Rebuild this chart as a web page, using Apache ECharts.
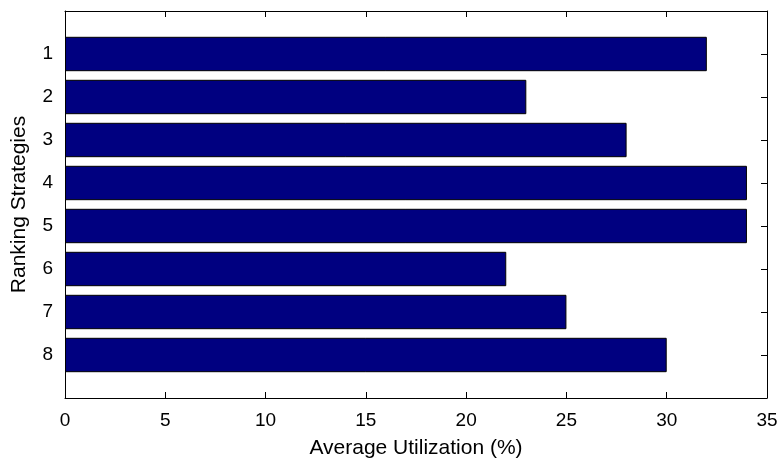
<!DOCTYPE html>
<html>
<head>
<meta charset="utf-8">
<script src="https://cdn.jsdelivr.net/npm/echarts@6/dist/echarts.min.js"></script>
<style>
  html, body { margin: 0; padding: 0; background: #fff; }
  #chart { width: 779px; height: 460px; }
</style>
</head>
<body>
<div id="chart"></div>
<script>
// strategies 1..8, padded with blank slots so the axis runs 0..9 like the original
const strategies = ['', '1', '2', '3', '4', '5', '6', '7', '8', ''];
const utilization = ['-', 32, 23, 28, 34, 34, 22, 25, 30, '-'];
const xTicks = [0, 5, 10, 15, 20, 25, 30, 35];

const font = 'Liberation Sans, Arial, Helvetica, sans-serif';
const chart = echarts.init(document.getElementById('chart'));

const yBase = {
  type: 'category',
  data: strategies,
  inverse: true,
  boundaryGap: false,
  axisLine: { show: true, onZero: false, lineStyle: { color: '#000', width: 1 } },
  axisTick: { show: true, inside: true, length: 6, lineStyle: { color: '#000' } },
  splitLine: { show: false }
};

const xBase = {
  type: 'value',
  min: xTicks[0],
  max: xTicks[xTicks.length - 1],
  interval: 5,
  axisLine: { show: true, onZero: false, lineStyle: { color: '#000', width: 1 } },
  axisTick: { show: true, inside: true, length: 6, lineStyle: { color: '#000' } },
  splitLine: { show: false }
};

chart.setOption({
  animation: false,
  // fixed plot box, don't let v6 shrink it to fit the labels
  grid: { left: 65, right: 12, top: 11, bottom: 62, outerBoundsMode: 'none' },
  xAxis: [
    Object.assign({}, xBase, {
      position: 'bottom',
      name: 'Average Utilization (%)',
      nameLocation: 'middle',
      nameGap: 40,
      nameTextStyle: { color: '#000', fontSize: 21, fontFamily: font },
      axisLabel: { color: '#000', fontSize: 19, fontFamily: font, margin: 13 }
    }),
    Object.assign({}, xBase, { position: 'top', axisLabel: { show: false } })
  ],
  yAxis: [
    Object.assign({}, yBase, {
      position: 'left',
      name: 'Ranking Strategies',
      nameLocation: 'middle',
      nameGap: 35,
      nameTextStyle: { color: '#000', fontSize: 21, fontFamily: font },
      axisLabel: { color: '#000', fontSize: 19, fontFamily: font, margin: 12, interval: 0 }
    }),
    Object.assign({}, yBase, { position: 'right', axisLabel: { show: false } })
  ],
  series: [{
    type: 'bar',
    data: utilization,
    xAxisIndex: 0,
    yAxisIndex: 0,
    barWidth: '80%',
    itemStyle: { color: '#000080', borderColor: '#000', borderWidth: 1 }
  }]
});
</script>
</body>
</html>
